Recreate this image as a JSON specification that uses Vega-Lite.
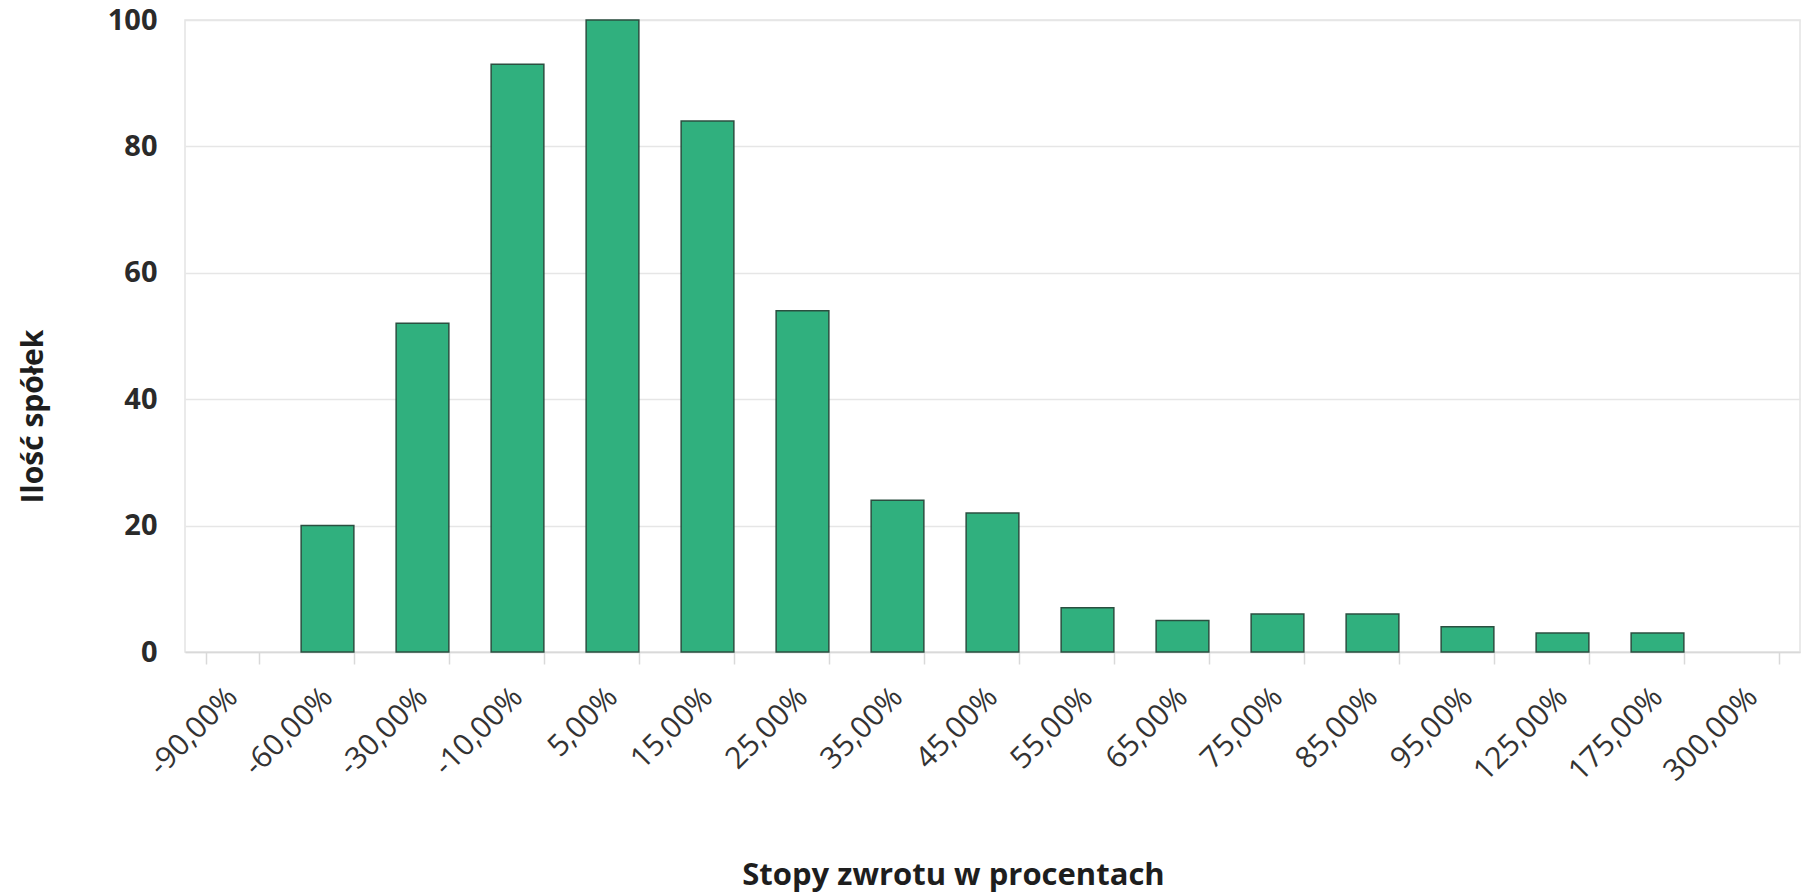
{
  "$schema": "https://vega.github.io/schema/vega-lite/v6.json",
  "autosize": {"type": "none"},
  "padding": {"left": 185, "top": 20, "right": 12, "bottom": 240},
  "width": 1615,
  "height": 632,
  "background": "white",
  "config": {
    "view": {"stroke": "#e3e3e3", "strokeWidth": 1.5},
    "font": "Open Sans"
  },
  "data": {
    "values": [
      {"kategoria": "-90,00%", "ilosc": 0},
      {"kategoria": "-60,00%", "ilosc": 20},
      {"kategoria": "-30,00%", "ilosc": 52},
      {"kategoria": "-10,00%", "ilosc": 93},
      {"kategoria": "5,00%", "ilosc": 100},
      {"kategoria": "15,00%", "ilosc": 84},
      {"kategoria": "25,00%", "ilosc": 54},
      {"kategoria": "35,00%", "ilosc": 24},
      {"kategoria": "45,00%", "ilosc": 22},
      {"kategoria": "55,00%", "ilosc": 7},
      {"kategoria": "65,00%", "ilosc": 5},
      {"kategoria": "75,00%", "ilosc": 6},
      {"kategoria": "85,00%", "ilosc": 6},
      {"kategoria": "95,00%", "ilosc": 4},
      {"kategoria": "125,00%", "ilosc": 3},
      {"kategoria": "175,00%", "ilosc": 3},
      {"kategoria": "300,00%", "ilosc": 0}
    ]
  },
  "mark": {"type": "bar", "fill": "#30b07e", "stroke": "#2b4f40", "strokeWidth": 1.5},
  "encoding": {
    "strokeOpacity": {"condition": {"test": "datum.ilosc == 0", "value": 0}, "value": 1},
    "x": {
      "field": "kategoria",
      "type": "nominal",
      "sort": null,
      "scale": {"paddingInner": 0.445, "paddingOuter": 0.2225},
      "axis": {
        "title": "Stopy zwrotu w procentach",
        "titleFont": "Open Sans",
        "titleFontWeight": "bold",
        "titleFontSize": 31,
        "titleColor": "#1e1e1e",
        "titleX": 768,
        "titleY": 232,
        "titleAlign": "center",
        "titleBaseline": "alphabetic",
        "labelAngle": -45,
        "labelAlign": "right",
        "labelBaseline": "middle",
        "labelFontSize": 30,
        "labelColor": "#333333",
        "labelPadding": 28,
        "labelOverlap": false,
        "tickBand": "extent",
        "ticks": true,
        "tickSize": 12,
        "tickColor": "#d9d9d9",
        "tickWidth": 1.5,
        "domainColor": "#d9d9d9",
        "domainWidth": 1.5,
        "grid": false
      }
    },
    "y": {
      "field": "ilosc",
      "type": "quantitative",
      "scale": {"domain": [0, 100]},
      "axis": {
        "title": "Ilość spółek",
        "titleFont": "Open Sans",
        "titleFontWeight": "bold",
        "titleFontSize": 30,
        "titleColor": "#1e1e1e",
        "titleAngle": -90,
        "titleX": -152,
        "titleY": 396,
        "titleAlign": "center",
        "titleBaseline": "middle",
        "values": [0, 20, 40, 60, 80, 100],
        "labelFontSize": 29,
        "labelFontWeight": "bold",
        "labelColor": "#2a2a2a",
        "labelPadding": 28,
        "ticks": false,
        "domain": false,
        "grid": true,
        "gridColor": "#e6e6e6",
        "gridWidth": 1.5
      }
    }
  }
}
